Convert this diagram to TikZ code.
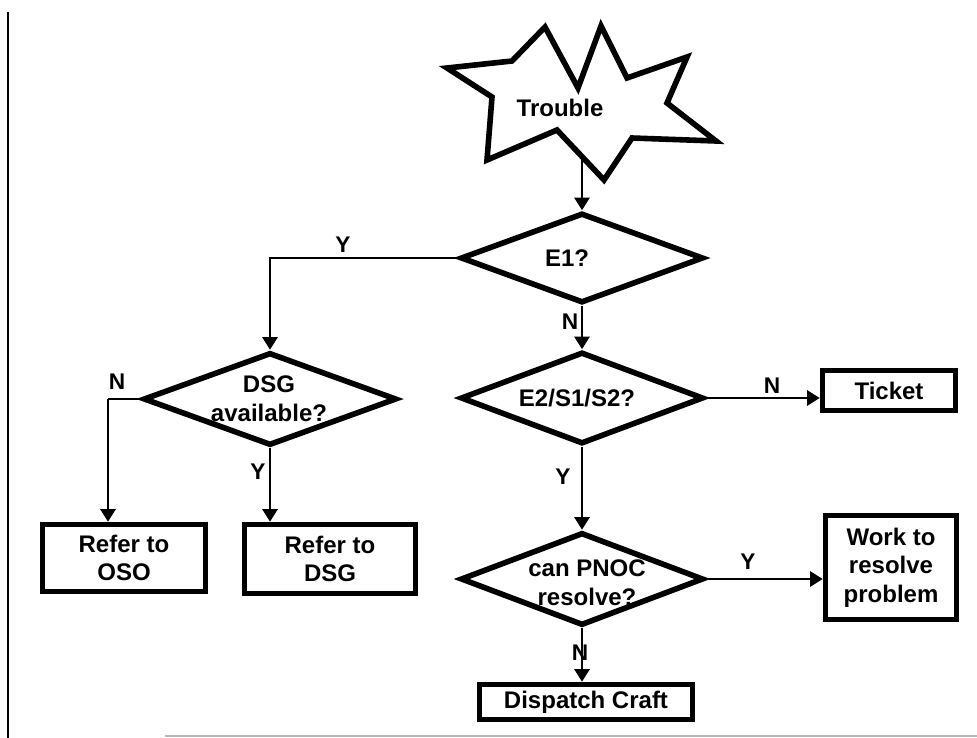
\documentclass[tikz,border=0pt]{standalone}
\usepackage{fontspec}
\setmainfont{Liberation Sans}
\usetikzlibrary{shapes.geometric,arrows.meta}

\begin{document}
\begin{tikzpicture}[x=0.75pt,y=-0.75pt,
  lbl/.style={font=\fontsize{18}{21.5}\selectfont\bfseries, align=center, inner sep=0pt},
  yn/.style={font=\fontsize{17}{19}\selectfont\bfseries, inner sep=0pt},
  box/.style={draw, line width=4.2pt, lbl},
  decision/.style={draw, diamond, line width=4.2pt, inner sep=0pt, minimum width=182.25pt},
  link/.style={line width=1.6pt},
  arr/.style={link, -{Triangle[width=11.5pt,length=9.5pt]}}]

% page frame
\useasboundingbox (0,0) rectangle (977,738);
\draw[line width=1.2pt] (8,12) -- (8,738);
\draw[gray!55, line width=2pt] (165,736) -- (977,736);

% the "Trouble" burst
\draw[line width=4.2pt, line join=miter, fill=white]
  (447,68) -- (512,61) -- (545,27) -- (578,88) -- (601,26) -- (627,78)
  -- (687,57) -- (667,103) -- (716,141) -- (632,138) -- (604,180)
  -- (557,130) -- (487,160) -- (492,97) -- cycle;
\node[lbl] (trouble) at (560,108) {Trouble};
\coordinate (foot) at (582,157);

% decisions
\node[decision, minimum height=67.5pt] (e1) at (582,258) {};
\node[lbl] (e1t) at (567,258) {E1?};
\node[decision, minimum height=69pt] (e2) at (582,398) {};
\node[lbl] (e2t) at (577,398) {E2/S1/S2?};
\node[decision, minimum height=69.75pt] (pnoc) at (582,579) {};
\node[lbl] (pnoct) at (587,583) {can PNOC\\resolve?};
\node[decision, minimum height=69.75pt, minimum width=190pt] (dsg) at (270,399) {};
\node[lbl] (dsgt) at (269,399) {DSG\\available?};

% outcomes
\node[box, minimum width=99.75pt, minimum height=30pt] (ticket) at (889,390.5) {Ticket};
\node[box, minimum width=98.25pt, minimum height=78pt] (work) at (891,567.5) {Work to\\resolve\\problem};
\node[box, minimum width=159.75pt, minimum height=26.25pt] (craft) at (586,702) {Dispatch Craft};
\node[box, minimum width=128.25pt, minimum height=51.75pt] (refdsg) at (330,559) {Refer to\\DSG};
\node[box, minimum width=122.25pt, minimum height=50.25pt] (refoso) at (124,558) {Refer to\\OSO};

% connectors
\draw[arr] (foot) -- (e1.north);
\draw[arr] (e1.west) -| (dsg.north);
\draw[arr] (e1.south) -- (e2.north);
\draw[arr] (e2.east) -- (e2.east -| ticket.west);
\draw[arr] (e2.south) -- (pnoc.north);
\draw[arr] (pnoc.east) -- (pnoc.east -| work.west);
\draw[arr] (pnoc.south) -- (pnoc.south |- craft.north);
\draw[arr] (dsg.south) -- (dsg.south |- refdsg.north);
\coordinate (nbend) at (108,399);
\draw[link] (dsg.west) -- (nbend);
\draw[arr] (nbend) -- (nbend |- refoso.north);

% branch labels
\node[yn] (y1) at (343,245) {Y};
\node[yn] (n1) at (570,322) {N};
\node[yn] (n2) at (117,382) {N};
\node[yn] (y2) at (258,472) {Y};
\node[yn] (y3) at (563,477) {Y};
\node[yn] (n3) at (772,386) {N};
\node[yn] (y4) at (748,562) {Y};
\node[yn] (n4) at (580,653) {N};
\end{tikzpicture}
\end{document}
